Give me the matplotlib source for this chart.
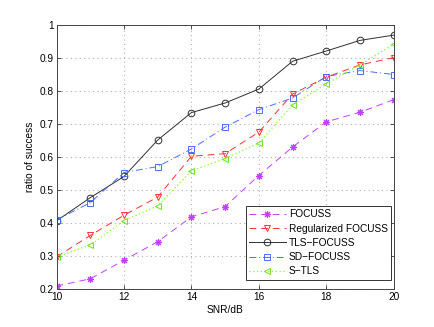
import numpy as np
import matplotlib
matplotlib.use("Agg")
import matplotlib.pyplot as plt

# data
snr = [10, 11, 12, 13, 14, 15, 16, 17, 18, 19, 20]
focuss = [0.21, 0.232, 0.288, 0.344, 0.419, 0.45, 0.544, 0.63, 0.706, 0.735, 0.773]
reg_focuss = [0.298, 0.363, 0.424, 0.479, 0.602, 0.61, 0.675, 0.79, 0.841, 0.878, 0.9]
tls_focuss = [0.407, 0.477, 0.541, 0.651, 0.734, 0.763, 0.805, 0.889, 0.92, 0.952, 0.968]
sd_focuss = [0.41, 0.462, 0.553, 0.571, 0.624, 0.69, 0.743, 0.778, 0.843, 0.861, 0.849]
s_tls = [0.298, 0.334, 0.408, 0.452, 0.558, 0.595, 0.642, 0.757, 0.821, 0.878, 0.941]

labels = ["FOCUSS", "Regularized FOCUSS", "TLS\u2212FOCUSS", "SD\u2212FOCUSS", "S\u2212TLS"]
xticks = [10, 12, 14, 16, 18, 20]
yticks = [0.2, 0.3, 0.4, 0.5, 0.6, 0.7, 0.8, 0.9, 1.0]

plt.rcParams['font.family'] = ['Liberation Sans', 'DejaVu Sans']
plt.rcParams['font.size'] = 7.3

fig = plt.figure(figsize=(4.35, 3.27), dpi=100)
ax = fig.add_axes([0.13, 0.115, 0.775, 0.81])

# matlab-style asterisk: 8 spokes
ax.plot(snr, focuss, color='#c040ff', ls=(0, (7, 5)), lw=0.7, marker=(8, 2, 0), ms=5,
        mfc='#c040ff', mec='#c040ff', mew=0.8, label=labels[0])
ax.plot(snr, reg_focuss, color='#ff3030', ls=(0, (7, 5)), lw=0.7, marker='v', ms=5,
        mfc='none', mec='#ff3030', mew=0.7, label=labels[1])
ax.plot(snr, tls_focuss, color='#303030', ls='-', lw=0.7, marker='o', ms=4.8,
        mfc='none', mec='#303030', mew=0.7, label=labels[2])
ax.plot(snr, sd_focuss, color='#4a6cff', ls=(0, (7, 3, 1, 3)), lw=0.7, marker='s', ms=4,
        mfc='none', mec='#4a6cff', mew=0.7, label=labels[3])
ax.plot(snr, s_tls, color='#80ff20', ls=(0, (1, 2)), lw=0.9, marker='<', ms=5,
        mfc='none', mec='#70e020', mew=0.7, label=labels[4])

ax.set_xlim(10, 20)
ax.set_ylim(0.2, 1.0)
ax.set_xticks(xticks)
ax.set_yticks(yticks)
ax.set_yticklabels(['0.2', '0.3', '0.4', '0.5', '0.6', '0.7', '0.8', '0.9', '1'])
ax.grid(True, color='#b0b0b0', ls=(0, (1, 3)), lw=0.8)
ax.tick_params(direction='in', top=True, right=True, length=3, width=0.6,
               colors='#333333', labelcolor='black', pad=2)
for s in ax.spines.values():
    s.set_color('#444444')
    s.set_linewidth(0.7)

ax.set_xlabel('SNR/dB', labelpad=2)
ax.set_ylabel('ratio of success', labelpad=3)

leg = ax.legend(loc='lower right', bbox_to_anchor=(0.993, 0.036), borderaxespad=0,
                fancybox=False, framealpha=1, edgecolor='#333333',
                handlelength=3.6, labelspacing=0.42, borderpad=0.35,
                handletextpad=0.3)
leg.get_frame().set_linewidth(0.7)

fig.savefig('out.png', dpi=100)
